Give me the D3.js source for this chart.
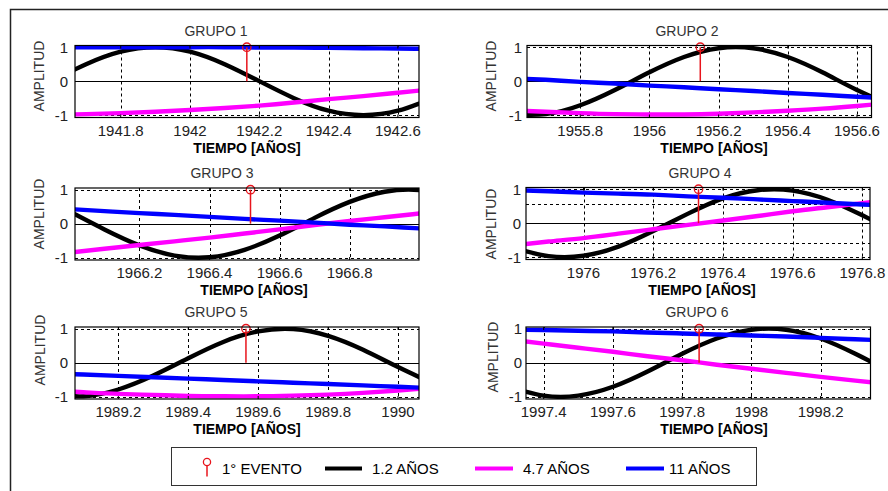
<!DOCTYPE html>
<html>
<head>
<meta charset="utf-8">
<script src="https://cdn.jsdelivr.net/npm/d3@7"></script>
<style>
  body { margin: 0; background: #fff; }
  svg { display: block; }
  text { font-family: Arial, "Liberation Sans", Helvetica, sans-serif; }
</style>
</head>
<body>
<svg id="chart" width="888" height="491"></svg>
<script>
// ---- Datos ----
const grupos = ["GRUPO 1", "GRUPO 2", "GRUPO 3", "GRUPO 4", "GRUPO 5", "GRUPO 6"];

// instante del primer evento de cada grupo (años)
const eventos = [1942.164, 1956.147, 1966.517, 1976.33, 1989.565, 1997.849];

// límites del eje de tiempo de cada grupo
const xMin = [1941.668, 1955.646, 1966.016, 1975.835, 1989.076, 1997.349];
const xMax = [1942.661, 1956.642, 1966.998, 1976.822, 1990.060, 1998.344];

const xTicks = [
  [1941.8, 1942, 1942.2, 1942.4, 1942.6],
  [1955.8, 1956, 1956.2, 1956.4, 1956.6],
  [1966.2, 1966.4, 1966.6, 1966.8],
  [1976, 1976.2, 1976.4, 1976.6, 1976.8],
  [1989.2, 1989.4, 1989.6, 1989.8, 1990],
  [1997.4, 1997.6, 1997.8, 1998, 1998.2]
];
const yTicks = [-1, 0, 1];
// rejilla horizontal adicional (solo grupo 4)
const yGridExtra = [[], [], [], [-0.57, 0.57], [], []];

// instantes de muestreo de las series
const tiempos = [
  [1941.6, 1941.7, 1941.8, 1941.9, 1942.0, 1942.1, 1942.2, 1942.3, 1942.4, 1942.5, 1942.6, 1942.7],
  [1955.6, 1955.7, 1955.8, 1955.9, 1956.0, 1956.1, 1956.2, 1956.3, 1956.4, 1956.5, 1956.6, 1956.7],
  [1966.0, 1966.1, 1966.2, 1966.3, 1966.4, 1966.5, 1966.6, 1966.7, 1966.8, 1966.9, 1967.0, 1967.1],
  [1975.8, 1975.9, 1976.0, 1976.1, 1976.2, 1976.3, 1976.4, 1976.5, 1976.6, 1976.7, 1976.8, 1976.9],
  [1989.0, 1989.1, 1989.2, 1989.3, 1989.4, 1989.5, 1989.6, 1989.7, 1989.8, 1989.9, 1990.0, 1990.1],
  [1997.3, 1997.4, 1997.5, 1997.6, 1997.7, 1997.8, 1997.9, 1998.0, 1998.1, 1998.2, 1998.3, 1998.4]
];

// ciclo de 1.2 años
const serie12 = [
  [0.00, 0.50, 0.87, 1.00, 0.87, 0.50, 0.00, -0.50, -0.87, -1.00, -0.87, -0.50],
  [-0.97, -0.97, -0.71, -0.26, 0.26, 0.71, 0.97, 0.97, 0.71, 0.26, -0.26, -0.71],
  [0.36, -0.17, -0.64, -0.94, -0.99, -0.77, -0.35, 0.17, 0.64, 0.94, 0.99, 0.77],
  [-0.73, -0.97, -0.96, -0.69, -0.23, 0.28, 0.73, 0.97, 0.96, 0.69, 0.23, -0.28],
  [-0.92, -0.99, -0.79, -0.38, 0.13, 0.61, 0.92, 0.99, 0.79, 0.38, -0.13, -0.61],
  [-0.71, -0.97, -0.97, -0.71, -0.26, 0.26, 0.71, 0.97, 0.97, 0.71, 0.26, -0.26]
];

// ciclo de 4.7 años
const serie47 = [
  [-1.00, -0.97, -0.94, -0.90, -0.85, -0.79, -0.72, -0.63, -0.53, -0.44, -0.34, -0.24],
  [-0.86, -0.90, -0.94, -0.97, -0.98, -0.98, -0.96, -0.92, -0.87, -0.81, -0.73, -0.64],
  [-0.85, -0.74, -0.63, -0.52, -0.41, -0.29, -0.17, -0.04, 0.08, 0.19, 0.30, 0.41],
  [-0.65, -0.54, -0.44, -0.31, -0.18, -0.05, 0.08, 0.21, 0.35, 0.47, 0.59, 0.70],
  [-0.82, -0.87, -0.92, -0.95, -0.98, -0.99, -0.99, -0.97, -0.94, -0.89, -0.82, -0.74],
  [0.68, 0.56, 0.44, 0.32, 0.19, 0.07, -0.06, -0.18, -0.30, -0.42, -0.53, -0.63]
];

// ciclo de 11 años
const serie11 = [
  [1.00, 1.00, 1.00, 1.00, 1.00, 1.00, 0.99, 0.99, 0.98, 0.97, 0.96, 0.95],
  [0.09, 0.04, -0.02, -0.07, -0.13, -0.18, -0.24, -0.29, -0.35, -0.40, -0.46, -0.51],
  [0.43, 0.37, 0.31, 0.26, 0.20, 0.14, 0.09, 0.03, -0.03, -0.08, -0.14, -0.19],
  [0.97, 0.94, 0.90, 0.87, 0.84, 0.79, 0.75, 0.70, 0.65, 0.60, 0.55, 0.50],
  [-0.31, -0.35, -0.39, -0.43, -0.47, -0.51, -0.55, -0.59, -0.63, -0.67, -0.71, -0.75],
  [0.97, 0.96, 0.94, 0.92, 0.89, 0.86, 0.83, 0.80, 0.77, 0.73, 0.69, 0.65]
];

const etiquetasLeyenda = ["1° EVENTO", "1.2 AÑOS", "4.7 AÑOS", "11 AÑOS"];
const alturaEvento = 1;

// ---- Estilo y disposición ----
const colorEvento = "#e8141c";
const colores = ["#000000", "#ff00ff", "#0000ff"];
const series = [serie12, serie47, serie11];
const yDomain = [-1.07, 1.05];
const alto = 72;

const paneles = [
  { x0: 75,  x1: 419,   top: 45.5,  titleX: 216, xlabX: 247, ylabX: 39,  ylabY: 76,  tickGap: 7 },
  { x0: 527, x1: 871.5, top: 45.5,  titleX: 687, xlabX: 714, ylabX: 491, ylabY: 76,  tickGap: 5 },
  { x0: 75,  x1: 419,   top: 188,   titleX: 222, xlabX: 254, ylabX: 39,  ylabY: 214, tickGap: 7 },
  { x0: 526, x1: 870,   top: 187.5, titleX: 700, xlabX: 702, ylabX: 491, ylabY: 224, tickGap: 5 },
  { x0: 75,  x1: 419,   top: 327,   titleX: 216, xlabX: 247, ylabX: 40,  ylabY: 350, tickGap: 7 },
  { x0: 526, x1: 870.5, top: 327,   titleX: 697, xlabX: 714, ylabX: 493, ylabY: 357, tickGap: 4 }
];

const svg = d3.select("#chart");

// marco exterior (parcial)
svg.append("path")
  .attr("d", "M10.5,491 L10.5,9.5 L888,9.5")
  .attr("fill", "none").attr("stroke", "#222").attr("stroke-width", 1.5);

const fmt = d => String(+d.toFixed(1));

paneles.forEach((p, i) => {
  const x = d3.scaleLinear().domain([xMin[i], xMax[i]]).range([p.x0, p.x1]);
  const y = d3.scaleLinear().domain(yDomain).range([p.top + alto, p.top]);
  const g = svg.append("g");

  const clipId = "clip" + i;
  svg.append("clipPath").attr("id", clipId)
    .append("rect").attr("x", p.x0).attr("y", p.top).attr("width", p.x1 - p.x0).attr("height", alto);

  // rejilla punteada
  const grid = g.append("g").attr("stroke", "#000").attr("stroke-width", 1)
    .attr("stroke-dasharray", "3,3").attr("fill", "none");
  xTicks[i].forEach(t => {
    grid.append("line").attr("x1", Math.round(x(t)) + 0.5).attr("x2", Math.round(x(t)) + 0.5)
      .attr("y1", p.top).attr("y2", p.top + alto);
  });
  yTicks.filter(v => v !== 0).concat(yGridExtra[i]).forEach(v => {
    grid.append("line").attr("x1", p.x0).attr("x2", p.x1)
      .attr("y1", Math.round(y(v)) + 0.5).attr("y2", Math.round(y(v)) + 0.5);
  });

  // línea de cero
  g.append("line").attr("x1", p.x0).attr("x2", p.x1)
    .attr("y1", Math.round(y(0)) + 0.5).attr("y2", Math.round(y(0)) + 0.5)
    .attr("stroke", "#000").attr("stroke-width", 1);

  // series
  const linea = d3.line().x(d => x(d[0])).y(d => y(d[1])).curve(d3.curveNatural);
  const curvas = g.append("g").attr("clip-path", `url(#${clipId})`);
  series.forEach((s, k) => {
    const pts = tiempos[i].map((t, j) => [t, s[i][j]]);
    curvas.append("path").datum(pts).attr("d", linea)
      .attr("fill", "none").attr("stroke", colores[k]).attr("stroke-width", 4.4)
      .attr("stroke-linejoin", "round");
  });

  // primer evento (tallo)
  const ex = x(eventos[i]);
  g.append("line").attr("x1", ex).attr("x2", ex).attr("y1", y(0)).attr("y2", y(alturaEvento))
    .attr("stroke", colorEvento).attr("stroke-width", 1.5);
  g.append("circle").attr("cx", ex).attr("cy", y(alturaEvento)).attr("r", 4.2)
    .attr("fill", "none").attr("stroke", colorEvento).attr("stroke-width", 1.3);

  // caja de ejes
  g.append("rect").attr("x", p.x0).attr("y", p.top).attr("width", p.x1 - p.x0).attr("height", alto)
    .attr("fill", "none").attr("stroke", "#000").attr("stroke-width", 1.2);

  // marcas interiores
  const marcas = g.append("g").attr("stroke", "#000").attr("stroke-width", 1);
  xTicks[i].forEach(t => {
    marcas.append("line").attr("x1", x(t)).attr("x2", x(t)).attr("y1", p.top + alto).attr("y2", p.top + alto - 3);
    marcas.append("line").attr("x1", x(t)).attr("x2", x(t)).attr("y1", p.top).attr("y2", p.top + 3);
  });

  // etiquetas del eje x
  g.append("g").selectAll("text").data(xTicks[i]).join("text")
    .attr("x", d => x(d)).attr("y", p.top + alto + 18)
    .attr("text-anchor", "middle").attr("font-size", 15).attr("fill", "#222")
    .text(fmt);

  // etiquetas del eje y
  g.append("g").selectAll("text").data(yTicks).join("text")
    .attr("x", p.x0 - p.tickGap).attr("y", d => y(d) + 5.5)
    .attr("text-anchor", "end").attr("font-size", 15).attr("fill", "#222")
    .text(d => String(d));

  // título
  g.append("text").attr("x", p.titleX).attr("y", p.top - 10)
    .attr("text-anchor", "middle").attr("font-size", 14).attr("fill", "#333")
    .text(grupos[i]);

  // rótulo del eje x
  g.append("text").attr("x", p.xlabX).attr("y", p.top + alto + 35)
    .attr("text-anchor", "middle").attr("font-size", 14).attr("font-weight", "bold").attr("fill", "#000")
    .text("TIEMPO [AÑOS]");

  // rótulo del eje y
  g.append("text").attr("transform", `translate(${p.ylabX + 5},${p.ylabY}) rotate(-90)`)
    .attr("text-anchor", "middle").attr("font-size", 14).attr("fill", "#333")
    .text("AMPLITUD");
});

// ---- Leyenda ----
const ley = svg.append("g");
ley.append("rect").attr("x", 171.5).attr("y", 447.5).attr("width", 585).attr("height", 38)
  .attr("fill", "#fff").attr("stroke", "#333").attr("stroke-width", 1);
const cy = 468.5;
// icono del evento
ley.append("line").attr("x1", 207).attr("x2", 207).attr("y1", cy - 3).attr("y2", cy + 8)
  .attr("stroke", colorEvento).attr("stroke-width", 1.5);
ley.append("circle").attr("cx", 207).attr("cy", cy - 6.5).attr("r", 3.6)
  .attr("fill", "none").attr("stroke", colorEvento).attr("stroke-width", 1.3);
ley.append("text").attr("x", 222).attr("y", cy + 5.5).attr("font-size", 15).attr("fill", "#000")
  .text(etiquetasLeyenda[0]);

const itemsLinea = [
  { x1: 325, x2: 362, tx: 372 },
  { x1: 475, x2: 513, tx: 523 },
  { x1: 626, x2: 664, tx: 669 }
];
itemsLinea.forEach((it, k) => {
  ley.append("line").attr("x1", it.x1).attr("x2", it.x2).attr("y1", cy).attr("y2", cy)
    .attr("stroke", colores[k]).attr("stroke-width", 4);
  ley.append("text").attr("x", it.tx).attr("y", cy + 5.5).attr("font-size", 15).attr("fill", "#000")
    .text(etiquetasLeyenda[k + 1]);
});
</script>
</body>
</html>
